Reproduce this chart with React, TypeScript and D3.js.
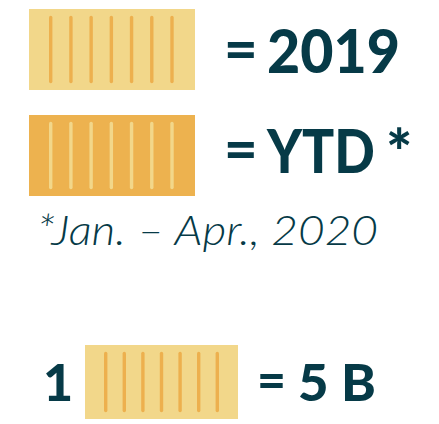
import React from "react";
import * as d3 from "d3";

const W = 439;
const H = 424;

const legendLabels = ["2019", "YTD"];
const legendMarks = ["", "*"];
const legendFills = ["#F2D78A", "#EDB24F"];
const legendStripes = ["#EDB04E", "#F2D78A"];
const footnote = "*Jan. – Apr., 2020";
const unitCount = ["1"];
const unitValue = ["5 B"];
const stripeCount = 7;

const TEXT = "#063A47";
const BOLD = "Lato, 'Open Sans', sans-serif";

function Swatch({ x, y, w, h, fill, stripe, x0, x1, inset }: any) {
  const idx = d3.range(stripeCount);
  const sx = d3.scaleLinear().domain([0, stripeCount - 1]).range([x + x0, x + x1]);
  return (
    <g>
      <rect x={x} y={y} width={w} height={h} fill={fill} />
      {idx.map((i) => (
        <line
          key={i}
          x1={sx(i)}
          x2={sx(i)}
          y1={y + inset}
          y2={y + h - inset}
          stroke={stripe}
          strokeWidth={3.4}
          strokeLinecap="round"
        />
      ))}
    </g>
  );
}

export default function App() {
  const rows = [
    { y: 9, h: 81, base: 73 },
    { y: 115, h: 81, base: 173 },
  ];
  return (
    <svg width={W} height={H} style={{ position: "absolute", left: 0, top: 0 }}>
      <rect width={W} height={H} fill="#fff" />
      {legendLabels.map((lab, i) => (
        <g key={lab}>
          <Swatch
            x={29}
            y={rows[i].y}
            w={166}
            h={rows[i].h}
            fill={legendFills[i]}
            stripe={legendStripes[i]}
            x0={21.7}
            x1={143}
            inset={8.5}
          />
          <text x={224} y={rows[i].base - 4} fontFamily={BOLD} fontWeight={900} fontSize={58} fill={TEXT}>=</text>
          <text x={267} y={rows[i].base} fontFamily={BOLD} fontWeight={900} fontSize={60} fill={TEXT}
            textLength={i === 0 ? 133 : 108} lengthAdjust="spacingAndGlyphs">{lab}</text>
          {legendMarks[i] && (
            <text x={386} y={rows[i].base + 2} fontFamily={BOLD} fontWeight={900} fontSize={62} fill={TEXT}>{legendMarks[i]}</text>
          )}
        </g>
      ))}
      <text x={37} y={245} fontFamily="Lato, 'Open Sans', sans-serif" fontStyle="italic" fontWeight={300}
        fontSize={42} fill={TEXT} textLength={341} lengthAdjust="spacingAndGlyphs">{footnote}</text>
      <text x={43} y={401} fontFamily={BOLD} fontWeight={900} fontSize={52} fill={TEXT}>{unitCount[0]}</text>
      <Swatch x={85} y={345} w={153} h={74} fill={legendFills[0]} stripe={legendStripes[0]} x0={20.7} x1={132.3} inset={8.5} />
      <text x={257} y={398} fontFamily={BOLD} fontWeight={900} fontSize={50} fill={TEXT}>=</text>
      <text x={298} y={401} fontFamily={BOLD} fontWeight={900} fontSize={52} fill={TEXT}
        textLength={78} lengthAdjust="spacingAndGlyphs">{unitValue[0]}</text>
    </svg>
  );
}
